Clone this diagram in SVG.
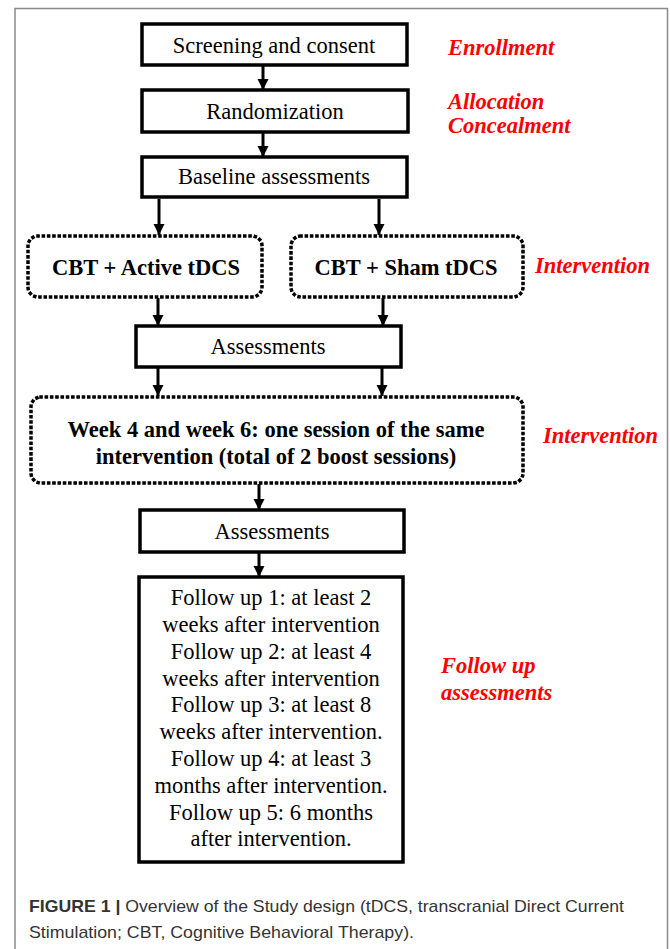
<svg xmlns="http://www.w3.org/2000/svg" width="670" height="949" viewBox="0 0 670 949">
<style>
.box{fill:#fff;stroke:#000;stroke-width:3.5}
.dot{fill:#fff;stroke:#000;stroke-width:3.5;stroke-dasharray:0.1 5.2;stroke-linecap:square}
.t{font-family:"Liberation Serif","Times New Roman",serif;font-size:22.5px;fill:#000;text-anchor:middle}
.b{font-weight:bold}
.lab{font-family:"Liberation Serif","Times New Roman",serif;font-size:22.5px;font-weight:bold;font-style:italic;fill:#ff0000}
.cap{font-family:"Liberation Sans",Arial,sans-serif;font-size:17px;fill:#333}
.con{stroke:#000;stroke-width:3;fill:none;marker-end:url(#ah)}
</style>
<defs>
<marker id="ah" viewBox="0 0 10 10" refX="10" refY="5" markerWidth="3.7" markerHeight="3.7" orient="auto" markerUnits="strokeWidth">
<path d="M0,0 L10,5 L0,10 Z" fill="#000"/>
</marker>
</defs>
<rect width="670" height="949" fill="#fff"/>
<path d="M15,949 V8.5 H667.5 V949" fill="none" stroke="#8a8a8a" stroke-width="1.5"/>

<g id="connectors">
<line class="con" x1="263" y1="66" x2="263" y2="90"/>
<line class="con" x1="263" y1="133" x2="263" y2="157"/>
<line class="con" x1="159" y1="199" x2="159" y2="235"/>
<line class="con" x1="379" y1="199" x2="379" y2="235"/>
<line class="con" x1="158" y1="298" x2="158" y2="326"/>
<line class="con" x1="383" y1="298" x2="383" y2="326"/>
<line class="con" x1="158" y1="368" x2="158" y2="396"/>
<line class="con" x1="382" y1="368" x2="382" y2="396"/>
<line class="con" x1="259" y1="484" x2="259" y2="510"/>
<line class="con" x1="259" y1="553" x2="259" y2="577"/>
</g>

<g id="screening">
<rect class="box" x="142" y="24" width="265" height="41"/>
<text class="t" x="274" y="53">Screening and consent</text>
</g>
<g id="randomization">
<rect class="box" x="142" y="90" width="266" height="42"/>
<text class="t" x="275" y="119">Randomization</text>
</g>
<g id="baseline">
<rect class="box" x="142" y="157" width="265" height="40"/>
<text class="t" x="274" y="184">Baseline assessments</text>
</g>
<g id="active">
<rect class="dot" x="28" y="236" width="234" height="61" rx="10"/>
<text class="t b" x="146" y="275">CBT + Active tDCS</text>
</g>
<g id="sham">
<rect class="dot" x="291" y="236" width="232" height="61" rx="10"/>
<text class="t b" x="406" y="275">CBT + Sham tDCS</text>
</g>
<g id="assessments1">
<rect class="box" x="136" y="326" width="265" height="41"/>
<text class="t" x="268" y="354">Assessments</text>
</g>
<g id="boost">
<rect class="dot" x="31" y="397" width="492" height="86" rx="10"/>
<text class="t b" x="276" y="437">Week 4 and week 6: one session of the same</text>
<text class="t b" x="276" y="464">intervention (total of 2 boost sessions)</text>
</g>
<g id="assessments2">
<rect class="box" x="140" y="510" width="264" height="42"/>
<text class="t" x="272" y="539">Assessments</text>
</g>
<g id="followup">
<rect class="box" x="139" y="577" width="264" height="285"/>
<text class="t" x="271" y="605">Follow up 1: at least 2</text>
<text class="t" x="271" y="632">weeks after intervention</text>
<text class="t" x="271" y="659">Follow up 2: at least 4</text>
<text class="t" x="271" y="686">weeks after intervention</text>
<text class="t" x="271" y="712">Follow up 3: at least 8</text>
<text class="t" x="271" y="739">weeks after intervention.</text>
<text class="t" x="271" y="766">Follow up 4: at least 3</text>
<text class="t" x="271" y="793">months after intervention.</text>
<text class="t" x="271" y="820">Follow up 5: 6 months</text>
<text class="t" x="271" y="846">after intervention.</text>
</g>

<g id="labels">
<text class="lab" x="448" y="55">Enrollment</text>
<text class="lab" x="448" y="109">Allocation</text>
<text class="lab" x="448" y="133">Concealment</text>
<text class="lab" x="535" y="273">Intervention</text>
<text class="lab" x="543" y="443">Intervention</text>
<text class="lab" x="441" y="673">Follow up</text>
<text class="lab" x="441" y="700">assessments</text>
</g>

<g id="caption">
<text class="cap" x="29" y="912" textLength="595" lengthAdjust="spacingAndGlyphs"><tspan font-weight="bold">FIGURE 1 |</tspan> Overview of the Study design (tDCS, transcranial Direct Current</text>
<text class="cap" x="29" y="938" textLength="385" lengthAdjust="spacingAndGlyphs">Stimulation; CBT, Cognitive Behavioral Therapy).</text>
</g>
</svg>
